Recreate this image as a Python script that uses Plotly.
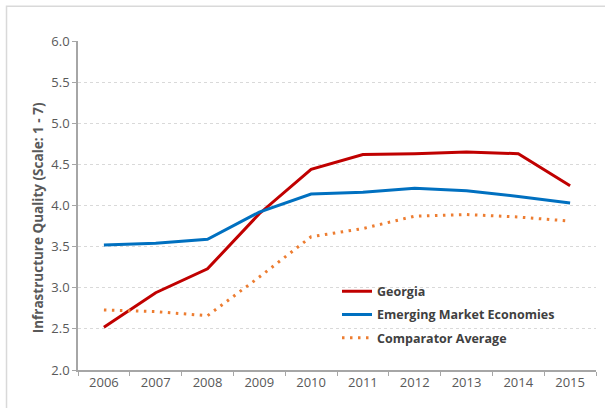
import plotly.graph_objects as go

years = ["2006", "2007", "2008", "2009", "2010", "2011", "2012", "2013", "2014", "2015"]
georgia = [2.52, 2.94, 3.23, 3.90, 4.44, 4.62, 4.63, 4.65, 4.63, 4.24]
emerging = [3.52, 3.54, 3.59, 3.92, 4.14, 4.16, 4.21, 4.18, 4.11, 4.03]
comparator = [2.73, 2.71, 2.66, 3.13, 3.62, 3.72, 3.87, 3.89, 3.86, 3.81]

FONT = "Open Sans"
GRAY = "#595959"

fig = go.Figure()
fig.add_trace(go.Scatter(x=years, y=georgia, name="Georgia", mode="lines",
                         legendgroup="a",
                         line=dict(color="#C00000", width=3)))
fig.add_trace(go.Scatter(x=years, y=emerging, name="Emerging Market Economies", mode="lines",
                         legendgroup="b",
                         line=dict(color="#0070C0", width=3)))
fig.add_trace(go.Scatter(x=years, y=comparator, name="Comparator Average", mode="lines",
                         legendgroup="c",
                         line=dict(color="#ED7D31", width=3, dash="2.5px,5.5px")))

fig.update_layout(
    width=605, height=408,
    margin=dict(l=78, r=9, t=41, b=38, autoexpand=False),
    paper_bgcolor="white", plot_bgcolor="white",
    font=dict(family=FONT, size=13, color=GRAY),
    legend=dict(x=0.5, y=0.284, xanchor="left", yanchor="top",
                bgcolor="rgba(0,0,0,0)", tracegroupgap=4,
                font=dict(family=FONT, size=12.5, color="#404040", weight="bold")),
    shapes=[dict(type="rect", xref="paper", yref="paper",
                 x0=-0.138, x1=1.2, y0=-0.3, y1=1.106,
                 line=dict(color="#D9D9D9", width=1.5), layer="below")],
    # y title sits a bit below the plot centre in the original
    annotations=[dict(text="<b>Infrastructure Quality (Scale: 1 - 7)</b>",
                      xref="paper", yref="paper", x=-0.098, y=0.462,
                      textangle=-90, showarrow=False,
                      font=dict(size=13.5, color=GRAY))],
)
fig.update_xaxes(
    type="category", range=[-0.5, 9.5], tickson="boundaries", automargin=False,
    showline=True, linecolor="#A6A6A6", linewidth=1.5,
    ticks="outside", ticklen=4, tickcolor="#A6A6A6", showgrid=False,
    tickfont=dict(size=13, color=GRAY),
)
fig.update_yaxes(
    range=[2, 6], dtick=0.5, tickformat=".1f", automargin=False,
    showline=True, linecolor="#A6A6A6", linewidth=1.5,
    ticks="outside", ticklen=4, tickcolor="#A6A6A6",
    showgrid=True, gridcolor="#D9D9D9", griddash="dot", gridwidth=1,
    zeroline=False,
    tickfont=dict(size=13, color=GRAY),
)

# page body margin would shift the figure by 8px
fig.write_html("out.html", config={"displayModeBar": False},
               post_script="document.body.style.margin='0';")
